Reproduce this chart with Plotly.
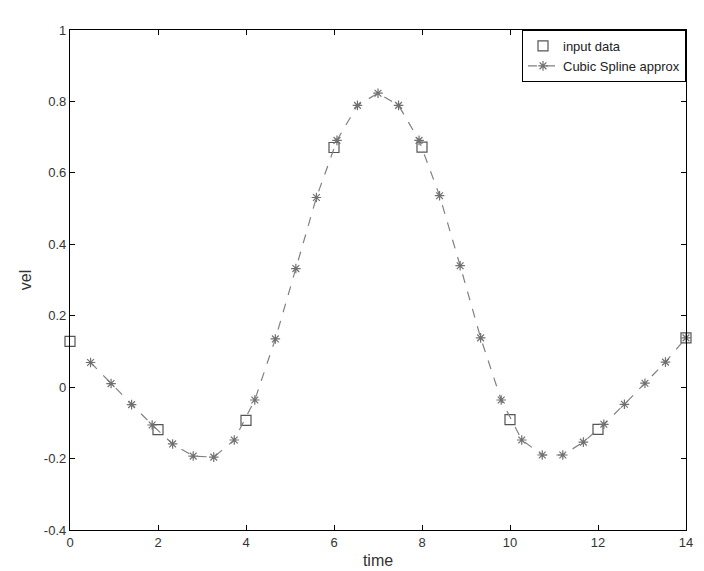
import plotly.graph_objects as go

# input data (squares)
data_t = [0, 2, 4, 6, 8, 10, 12, 14]
data_v = [0.128, -0.119, -0.093, 0.671, 0.672, -0.091, -0.118, 0.138]

# cubic spline approximation (asterisks + dashed line)
spline_t = [0.467, 0.933, 1.4, 1.867, 2.333, 2.8, 3.267, 3.733, 4.2, 4.667,
            5.133, 5.6, 6.067, 6.533, 7.0, 7.467, 7.933, 8.4, 8.867, 9.333,
            9.8, 10.267, 10.733, 11.2, 11.667, 12.133, 12.6, 13.067, 13.533, 14.0]
spline_v = [0.069, 0.010, -0.049, -0.106, -0.159, -0.193, -0.196, -0.148, -0.036, 0.135,
            0.332, 0.531, 0.691, 0.789, 0.823, 0.789, 0.691, 0.536, 0.340, 0.138,
            -0.036, -0.148, -0.190, -0.190, -0.154, -0.104, -0.048, 0.011, 0.070, 0.138]

x_ticks = [0, 2, 4, 6, 8, 10, 12, 14]
y_ticks = [-0.4, -0.2, 0, 0.2, 0.4, 0.6, 0.8, 1]

fig = go.Figure()
fig.add_trace(go.Scatter(
    x=data_t, y=data_v, mode="markers", name="input data",
    marker=dict(symbol="square-open", size=10, color="#555555",
                line=dict(width=1.2, color="#555555")),
    cliponaxis=False,
))
fig.add_trace(go.Scatter(
    x=spline_t, y=spline_v, mode="lines+markers", name="Cubic Spline approx",
    line=dict(color="#808080", width=1.2, dash="dash"),
    marker=dict(symbol="asterisk-open", size=8, color="#707070",
                line=dict(width=1.2, color="#707070")),
    cliponaxis=False,
))

axis_common = dict(
    showgrid=False, zeroline=False, showline=True, linecolor="black",
    linewidth=1.3, mirror="ticks", ticks="inside", ticklen=5,
    tickcolor="black", tickfont=dict(family="Liberation Sans, Arial", size=13, color="#333333"),
)

fig.update_layout(
    width=704, height=571,
    margin=dict(l=62, r=26, t=22, b=44),
    paper_bgcolor="white", plot_bgcolor="white",
    font=dict(family="Liberation Sans, Arial", size=13, color="#333333"),
    showlegend=True,
    legend=dict(x=1, y=1, xanchor="right", yanchor="top",
                bordercolor="black", borderwidth=1, bgcolor="white",
                font=dict(size=13, color="#222222"), tracegroupgap=0),
    xaxis=dict(range=[0, 14], tickvals=x_ticks,
               ticktext=[str(v) for v in x_ticks],
               title=dict(text="time", standoff=6), **axis_common),
    yaxis=dict(range=[-0.4, 1], tickvals=y_ticks,
               ticktext=["-0.4", "-0.2", "0", "0.2", "0.4", "0.6", "0.8", "1"],
               title=dict(text="vel", standoff=8), **axis_common),
)

fig.write_html("out.html")
